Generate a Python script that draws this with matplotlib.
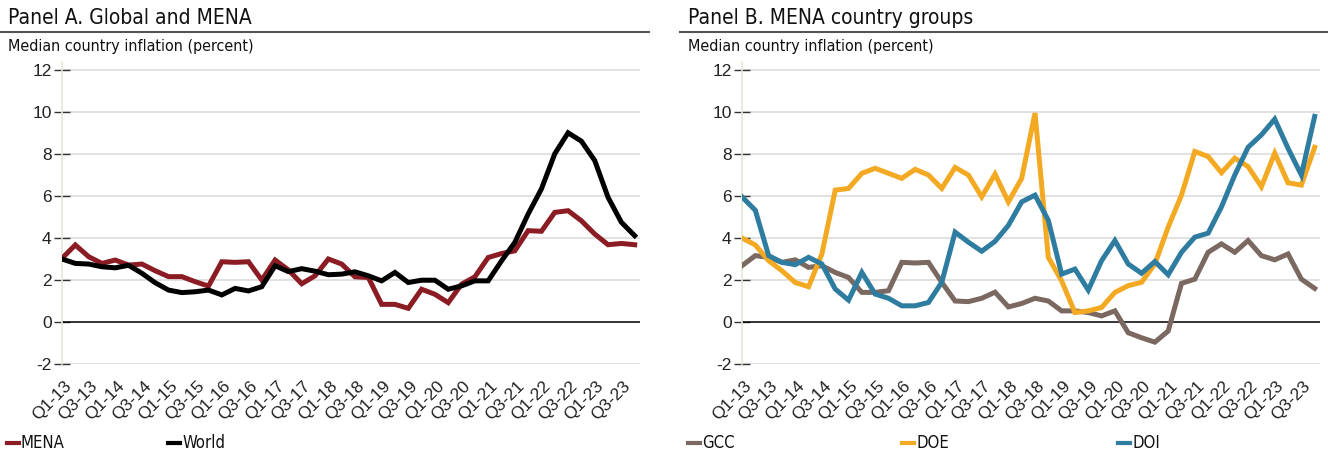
import matplotlib
matplotlib.use("Agg")
import matplotlib.pyplot as plt
import matplotlib.transforms as mtransforms
from matplotlib.lines import Line2D
from matplotlib import font_manager

# quarters Q1-13 .. Q4-23
quarters = [f"Q{q}-{y}" for y in range(13, 24) for q in range(1, 5)]

mena = [3.03, 3.67, 3.11, 2.79, 2.95, 2.71, 2.76, 2.44, 2.16, 2.16, 1.92, 1.71,
        2.87, 2.84, 2.87, 2.0, 2.95, 2.48, 1.82, 2.2, 3.0, 2.76, 2.15, 2.12,
        0.84, 0.84, 0.65, 1.56, 1.32, 0.92, 1.8, 2.15, 3.07, 3.26, 3.39, 4.35,
        4.32, 5.22, 5.3, 4.82, 4.19, 3.68, 3.74, 3.68]
world = [3.0, 2.79, 2.76, 2.63, 2.58, 2.7, 2.32, 1.87, 1.52, 1.4, 1.44, 1.52,
         1.29, 1.6, 1.48, 1.68, 2.68, 2.4, 2.54, 2.42, 2.25, 2.28, 2.39, 2.2,
         1.96, 2.36, 1.88, 1.99, 1.99, 1.56, 1.72, 1.96, 1.96, 2.91, 3.79, 5.14,
         6.34, 8.01, 9.01, 8.61, 7.69, 5.94, 4.75, 4.11]

gcc = [2.68, 3.16, 3.08, 2.84, 2.96, 2.6, 2.68, 2.36, 2.12, 1.41, 1.41, 1.49,
       2.84, 2.81, 2.84, 1.89, 1.0, 0.97, 1.13, 1.42, 0.72, 0.88, 1.13, 1.0,
       0.53, 0.53, 0.45, 0.29, 0.53, -0.51, -0.75, -0.96, -0.43, 1.84, 2.04, 3.32,
       3.72, 3.32, 3.88, 3.16, 2.96, 3.24, 2.04, 1.6]
doe = [4.0, 3.67, 2.92, 2.44, 1.88, 1.68, 3.24, 6.28, 6.36, 7.08, 7.32, 7.08,
       6.84, 7.27, 7.0, 6.36, 7.36, 7.0, 5.96, 7.04, 5.72, 6.84, 9.95, 3.08,
       1.96, 0.45, 0.53, 0.69, 1.41, 1.73, 1.89, 2.76, 4.52, 6.04, 8.12, 7.88,
       7.11, 7.8, 7.4, 6.44, 8.04, 6.63, 6.52, 8.32]
doi = [5.96, 5.32, 3.16, 2.84, 2.73, 3.08, 2.76, 1.57, 1.04, 2.36, 1.33, 1.13,
       0.77, 0.77, 0.93, 1.89, 4.28, 3.8, 3.37, 3.84, 4.6, 5.72, 6.04, 4.84,
       2.28, 2.52, 1.52, 2.92, 3.88, 2.76, 2.32, 2.88, 2.25, 3.32, 4.04, 4.23,
       5.48, 7.0, 8.32, 8.91, 9.66, 8.27, 7.0, 9.79]

panel_a = [("MENA", mena, "#8b1c24"), ("World", world, "#000000")]
panel_b = [("GCC", gcc, "#7a6861"), ("DOE", doe, "#f4a922"), ("DOI", doi, "#2e7ca0")]

names = {f.name for f in font_manager.fontManager.ttflist}
if "Liberation Sans Narrow" in names:
    narrow = dict(family="Liberation Sans Narrow")
else:
    narrow = dict(family="DejaVu Sans", fontstretch="condensed")
plt.rcParams["font.family"] = ["Liberation Sans", "DejaVu Sans"]

W, H = 1328, 453
fig = plt.figure(figsize=(W / 100, H / 100), dpi=100)


def fx(px):
    return px / W


def fy(py):
    return 1 - py / H


def draw_panel(left_px, series, title, title_line, legend_x):
    ax = fig.add_axes([fx(left_px), fy(364), fx(578), (364 - 61.6) / H])
    x = list(range(len(quarters)))
    for name, vals, col in series:
        ax.plot(x, vals, color=col, lw=3.6, solid_joinstyle="miter", zorder=3)
    ax.set_xlim(0, 43.4)
    ax.set_ylim(-2, 12.4)
    ax.set_yticks(range(-2, 13, 2))
    ax.set_yticklabels([str(v) for v in range(-2, 13, 2)], fontsize=12.5)
    ax.tick_params(axis="y", direction="inout", length=11, width=1, color="#333333",
                   pad=2, labelcolor="#222222")
    for v in range(-2, 13, 2):
        if v == 0:
            ax.axhline(v, color="#000000", lw=1.1, zorder=2)
        else:
            ax.axhline(v, color="#d9d9d9", lw=1.1, zorder=1)
    ax.set_xticks(x[::2])
    ax.set_xticklabels(quarters[::2], rotation=45, ha="right", va="top", fontsize=12.5,
                       color="#222222")
    ax.set_xticks(x[::4], minor=True)
    ax.tick_params(axis="x", which="major", length=0, pad=4)
    ax.tick_params(axis="x", which="minor", direction="inout", length=12, width=1,
                   color="#333333")
    offset = mtransforms.ScaledTranslation(12 / 100, -9 / 100, fig.dpi_scale_trans)
    for lab in ax.get_xticklabels():
        lab.set_transform(lab.get_transform() + offset)
    for s in ["top", "right", "bottom"]:
        ax.spines[s].set_visible(False)
    ax.spines["left"].set_color("#e3e9d5")
    ax.spines["left"].set_linewidth(1.2)

    fig.text(fx(title_line[0] + 8), fy(18), title, fontsize=15, va="center", ha="left",
             color="#111111", **narrow)
    fig.add_artist(Line2D([fx(title_line[0]), fx(title_line[1])], [fy(32), fy(32)],
                          color="#555555", lw=1.5))
    fig.text(fx(title_line[0] + 8), fy(47), "Median country inflation (percent)",
             fontsize=11.5, va="center", ha="left", color="#111111", **narrow)

    for (name, vals, col), lx in zip(series, legend_x):
        fig.add_artist(Line2D([fx(lx), fx(lx + 12)], [fy(443), fy(443)], color=col, lw=3))
        fig.text(fx(lx + 14), fy(443), name, fontsize=12, va="center", ha="left",
                 color="#111111", **narrow)
    return ax


draw_panel(62, panel_a, "Panel A. Global and MENA", (0, 649), [7, 168])
draw_panel(742, panel_b, "Panel B. MENA country groups", (680, 1328), [688, 902, 1118])

fig.savefig("out.png", dpi=100)
